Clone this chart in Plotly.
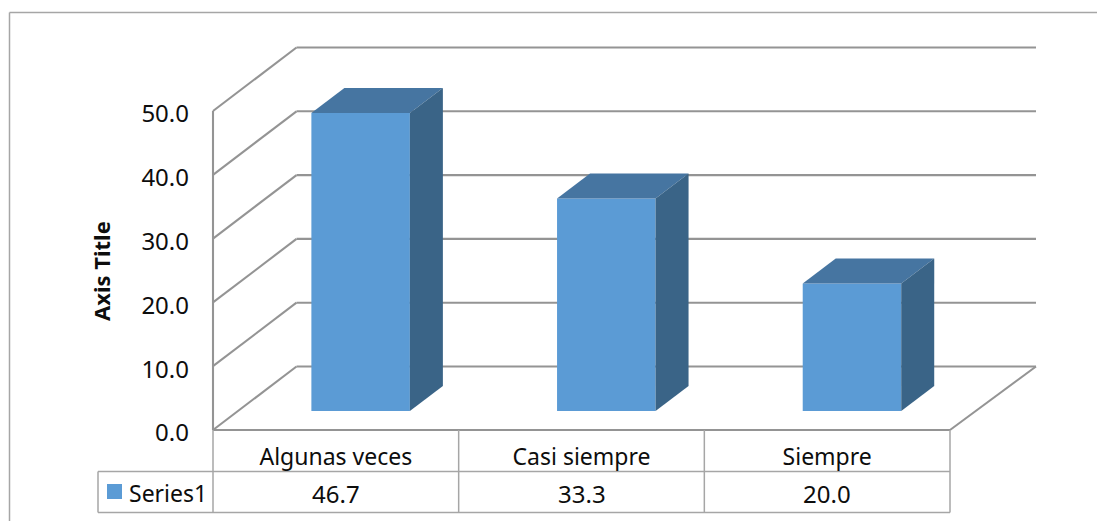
import plotly.graph_objects as go

categories = ["Algunas veces", "Casi siempre", "Siempre"]
values = [46.7, 33.3, 20.0]
series_name = "Series1"
tick_values = [0, 10, 20, 30, 40, 50]

FONT = "Noto Sans"
INK = "#0d0d0d"
GRID = "#949494"
TABLE = "#a6a6a6"
FRONT = "#5b9bd5"
TOP = "#4675a1"
SIDE = "#3a6487"

# pixel geometry of the oblique projection
W, H = 1097, 521
PX_L, PX_R, PX_T, PX_B = 213, 1036, 48, 430
CAT_PX = (950 - 213) / 3
VAL_PX = 6.38
BACK_L = 83.5 / CAT_PX
BACK_R = 86 / CAT_PX
DEPTH_Y = 63.5 / VAL_PX
BAR_W = 98.5 / CAT_PX
NEAR_X = 24.8 / CAT_PX
NEAR_Y = 19 / VAL_PX
FACE_DX = 33 / CAT_PX
FACE_DY = 25 / VAL_PX


def dx(px):
    return (px - PX_L) / CAT_PX


def dy(py):
    return (PX_B - py) / VAL_PX


def xp(cat):
    """category-axis position to paper fraction (unclipped)"""
    return cat * CAT_PX / (PX_R - PX_L)


def yp(val):
    """value-axis position to paper fraction (unclipped)"""
    return val * VAL_PX / (PX_B - PX_T)


x_max = dx(PX_R)
y_max = dy(PX_T)
n = len(categories)
centres = [i + 0.5 for i in range(n)]


def seg(x0, y0, x1, y1, color=GRID, width=2.1):
    return dict(type="line", xref="paper", yref="paper", x0=xp(x0), y0=yp(y0), x1=xp(x1), y1=yp(y1),
                layer="below", line=dict(color=color, width=width))


shapes = []
# gridlines: side wall and back wall
for t in tick_values:
    shapes.append(seg(0, t, BACK_L, t + DEPTH_Y))
    shapes.append(seg(BACK_L, t + DEPTH_Y, n + BACK_R, t + DEPTH_Y))
# wall and floor edges
shapes.append(seg(0, 0, 0, tick_values[-1]))
shapes.append(seg(0, 0, n, 0))
shapes.append(seg(n, 0, n + BACK_R, DEPTH_Y))
# data table
row1, row2 = dy(471.5), dy(512.5)
left = dx(98)
shapes.append(seg(left, row1, n, row1, TABLE, 1.5))
shapes.append(seg(left, row2, n, row2, TABLE, 1.5))
shapes.append(seg(left, row1, left, row2, TABLE, 1.5))
for i in range(n + 1):
    shapes.append(seg(i, 0, i, row2, TABLE, 1.5))
# outer chart border
shapes.append(seg(dx(9.5), dy(12.5), dx(W), dy(12.5), TABLE, 1.5))
shapes.append(seg(dx(9.5), dy(12.5), dx(9.5), dy(H), TABLE, 1.5))
# legend key in the table
shapes.append(dict(type="rect", xref="paper", yref="paper", x0=xp(dx(107)), x1=xp(dx(122)),
                   y0=yp(dy(484)), y1=yp(dy(499)), layer="below", fillcolor=FRONT, line=dict(width=0)))

fig = go.Figure()

# front faces of the bars
fig.add_trace(go.Bar(
    x=[c + NEAR_X for c in centres], y=values, base=NEAR_Y, width=BAR_W,
    marker=dict(color=FRONT, line=dict(width=0)), name=series_name, showlegend=False,
))

# top and side faces
for c, v in zip(centres, values):
    xl = c + NEAR_X - BAR_W / 2
    xr = c + NEAR_X + BAR_W / 2
    ytop = v + NEAR_Y
    fig.add_trace(go.Scatter(
        x=[xl, xr, xr + FACE_DX, xl + FACE_DX, xl],
        y=[ytop, ytop, ytop + FACE_DY, ytop + FACE_DY, ytop],
        mode="lines", fill="toself", fillcolor=TOP, line=dict(width=0), showlegend=False,
    ))
    fig.add_trace(go.Scatter(
        x=[xr, xr + FACE_DX, xr + FACE_DX, xr, xr],
        y=[NEAR_Y, NEAR_Y + FACE_DY, ytop + FACE_DY, ytop, NEAR_Y],
        mode="lines", fill="toself", fillcolor=SIDE, line=dict(width=0), showlegend=False,
    ))

annotations = [
    dict(x=xp(dx(127)), y=yp(dy(493)), xref="paper", yref="paper", text=series_name, showarrow=False,
         xanchor="left", yanchor="middle", font=dict(family=FONT, size=23, color=INK)),
    dict(x=xp(dx(101)), y=yp(dy(271)), xref="paper", yref="paper", text="<b>Axis Title</b>", showarrow=False,
         textangle=-90, xanchor="center", yanchor="middle", font=dict(family=FONT, size=22, color=INK)),
]
# value row of the data table
for c, v in zip(centres, values):
    annotations.append(dict(x=c, y=yp(dy(493)), xref="x", yref="paper", text=f"{v:.1f}", showarrow=False,
                            xanchor="center", yanchor="middle", font=dict(family=FONT, size=24, color=INK)))

fig.update_layout(
    width=W, height=H, autosize=False,
    margin=dict(l=PX_L, r=W - PX_R, t=PX_T, b=H - PX_B, pad=0),
    paper_bgcolor="white", plot_bgcolor="rgba(0,0,0,0)",
    showlegend=False, hovermode=False,
    shapes=shapes, annotations=annotations,
    xaxis=dict(range=[0, x_max], tickvals=centres, ticktext=categories, showgrid=False, zeroline=False,
               showline=False, ticks="", ticklabelstandoff=11, tickangle=0,
               tickfont=dict(family=FONT, size=23, color=INK)),
    yaxis=dict(range=[0, y_max], tickvals=tick_values, ticktext=[f"{t:.1f}" for t in tick_values],
               showgrid=False, zeroline=False, showline=False, ticks="", ticklabelstandoff=23,
               ticklabelshift=3, tickfont=dict(family=FONT, size=24, color=INK)),
)

fig.write_html("out.html", config=dict(displayModeBar=False),
               post_script="document.body.style.margin='0';document.body.style.overflow='hidden';")
